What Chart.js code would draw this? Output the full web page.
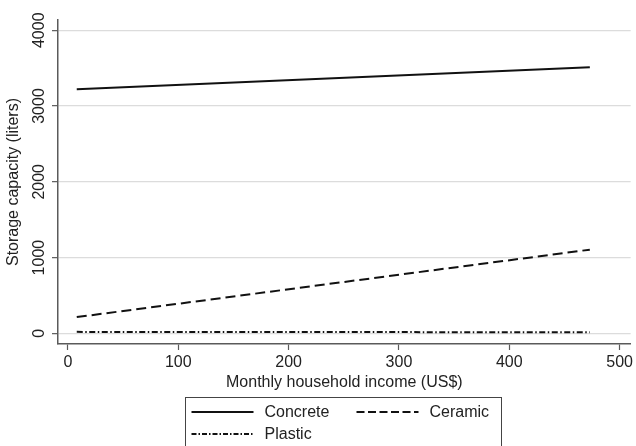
<!DOCTYPE html>
<html>
<head>
<meta charset="utf-8">
<script src="https://cdn.jsdelivr.net/npm/chart.js@4/dist/chart.umd.min.js"></script>
<style>
  body { margin: 0; background: #ffffff; }
  canvas { display: block; }
</style>
</head>
<body>
<canvas id="incomeChart" width="636" height="446"></canvas>
<script>
// values
const income = [8, 473];
const concrete = [3220, 3510];
const ceramic = [215, 1105];
const plastic = [20, 15];
const xTicks = [0, 100, 200, 300, 400, 500];
const yTicks = [0, 1000, 2000, 3000, 4000];

const seriesNames = ['Concrete', 'Ceramic', 'Plastic'];
const seriesValues = [concrete, ceramic, plastic];
const seriesDash = [[], [10, 5], [6, 2.5, 1.5, 2.5]];

const FONT = "'Liberation Sans', Arial, sans-serif";
const TEXT = '#222222';
const AXIS = '#5a5a5a';

function toPoints(values) {
    return values.map((v, i) => ({ x: income[i], y: v }));
}

// rotated y tick labels, Stata style
const yLabels = {
    id: 'yLabels',
    afterDraw(chart) {
        const scale = chart.scales.y;
        const ctx = chart.ctx;
        ctx.save();
        ctx.fillStyle = TEXT;
        ctx.font = '16px ' + FONT;
        ctx.textAlign = 'center';
        ctx.textBaseline = 'middle';
        scale.ticks.forEach(t => {
            const y = scale.getPixelForValue(t.value);
            ctx.save();
            ctx.translate(40, y);
            ctx.rotate(-Math.PI / 2);
            ctx.fillText(String(t.value), 0, 0);
            ctx.restore();
        });
        ctx.restore();
    }
};

// boxed legend under the x axis title
const boxLegend = {
    id: 'boxLegend',
    afterDraw(chart) {
        const ctx = chart.ctx;
        const area = chart.chartArea;
        const cx = (area.left + area.right) / 2;
        const left = Math.round(cx - 159) + 0.5;
        const top = 397.5;
        ctx.save();
        ctx.strokeStyle = '#444444';
        ctx.lineWidth = 1;
        ctx.setLineDash([]);
        ctx.strokeRect(left, top, 316, 70);

        const slots = [
            { x: left + 6, y: 412 },
            { x: left + 171, y: 412 },
            { x: left + 6, y: 434 }
        ];
        ctx.font = '16px ' + FONT;
        ctx.textBaseline = 'middle';
        ctx.textAlign = 'left';
        chart.data.datasets.forEach((ds, i) => {
            const s = slots[i];
            ctx.strokeStyle = ds.borderColor;
            ctx.lineWidth = 2;
            ctx.setLineDash(i === 1 ? [8, 3.5] : i === 2 ? [5, 2, 1.5, 2] : []);
            ctx.beginPath();
            ctx.moveTo(s.x, s.y);
            ctx.lineTo(s.x + 62, s.y);
            ctx.stroke();
            ctx.setLineDash([]);
            ctx.fillStyle = TEXT;
            ctx.fillText(ds.label, s.x + 73, s.y + 1);
        });
        ctx.restore();
    }
};

const ctx = document.getElementById('incomeChart').getContext('2d');
new Chart(ctx, {
    type: 'line',
    data: {
        datasets: seriesNames.map((name, i) => ({
            label: name,
            data: toPoints(seriesValues[i]),
            borderColor: '#111111',
            borderWidth: 2,
            borderDash: seriesDash[i],
            pointRadius: 0,
            fill: false,
            tension: 0
        }))
    },
    options: {
        responsive: false,
        animation: false,
        layout: { padding: { top: 20, right: 2, left: 0, bottom: 52 } },
        plugins: {
            legend: { display: false },
            tooltip: { enabled: false }
        },
        scales: {
            x: {
                type: 'linear',
                min: -9,
                max: 510,
                afterBuildTicks: scale => { scale.ticks = xTicks.map(v => ({ value: v })); },
                afterFit: scale => { scale.height = 50; },
                ticks: {
                    color: TEXT,
                    font: { family: FONT, size: 16 },
                    padding: 3,
                    maxRotation: 0,
                    autoSkip: false
                },
                grid: {
                    drawOnChartArea: false,
                    drawTicks: true,
                    tickLength: 6,
                    tickColor: AXIS,
                    tickWidth: 1.2
                },
                border: { color: AXIS, width: 1.5 },
                title: {
                    display: true,
                    text: 'Monthly household income (US$)',
                    color: TEXT,
                    font: { family: FONT, size: 16 },
                    padding: { top: 0, bottom: 2 }
                }
            },
            y: {
                min: -140,
                max: 4135,
                afterBuildTicks: scale => { scale.ticks = yTicks.map(v => ({ value: v })); },
                afterFit: scale => { scale.width = 58; },
                ticks: { display: false },
                grid: {
                    color: '#dcdcdc',
                    lineWidth: 1.3,
                    drawTicks: true,
                    tickLength: 6,
                    tickColor: AXIS,
                    tickWidth: 1.2
                },
                border: { color: AXIS, width: 1.5 },
                title: {
                    display: true,
                    text: 'Storage capacity (liters)',
                    color: TEXT,
                    font: { family: FONT, size: 16 },
                    padding: { top: 4, bottom: 0 }
                }
            }
        }
    },
    plugins: [yLabels, boxLegend]
});
</script>
</body>
</html>
